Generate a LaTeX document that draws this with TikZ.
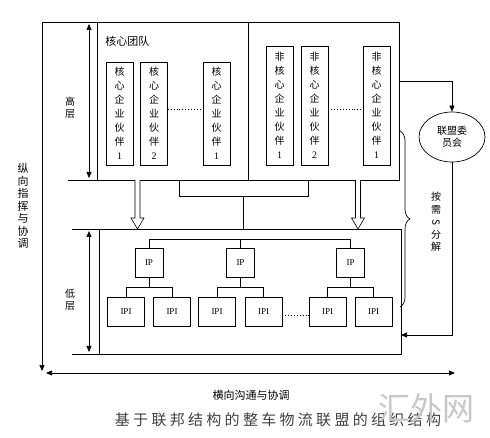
\documentclass[tikz,border=0pt]{standalone}
\usepackage{fontspec}
\setmainfont{Liberation Serif}
\newfontfamily\cjk{Noto Sans CJK SC}
\newfontfamily\cjkt[LetterSpace=22]{Noto Sans CJK SC}
\usetikzlibrary{arrows.meta,shapes.geometric,decorations.pathreplacing}
\begin{document}
\begin{tikzpicture}[x=1pt,y=-1pt,
  line width=0.7pt,
  vbox/.style={draw, minimum width=27pt, inner sep=0pt, align=center, font=\cjk\fontsize{10}{14}\selectfont},
  ipbox/.style={draw, minimum width=28pt, minimum height=29pt, inner sep=0pt, font=\fontsize{9}{10}\selectfont},
  ipibox/.style={draw, minimum width=37pt, minimum height=29pt, inner sep=0pt, font=\fontsize{9}{10}\selectfont},
  lbl/.style={font=\cjk\fontsize{10}{12}\selectfont, align=center, inner sep=0pt},
  tip/.style={-{Triangle[length=6pt,width=5pt]}},
  tips/.style={{Triangle[length=6pt,width=5pt]}-{Triangle[length=6pt,width=5pt]}},
  hollow/.style={fill=white, line width=0.6pt},
]
\useasboundingbox (0,0) rectangle (490,438);

% frame lines
\draw (42,22) -- (399,22) -- (399,180) -- (68,180);
\draw (97,22) -- (97,180);
\draw (248,22) -- (248,180);
\draw[tip] (42,22) -- (42,371);
\draw[tips] (46,373) -- (455,373);
\draw (72,229) -- (401,229) -- (401,354) -- (72,354);
\draw (99,229) -- (99,354);

% layer arrows
\draw[tips] (89,24) -- (89,178);
\draw[tips] (89,231) -- (89,352);
\node[lbl] (gao) at (70,108) {高\\层};
\node[lbl] (di) at (70,300) {低\\层};

\node[lbl, anchor=west, font=\cjk\fontsize{11}{12}\selectfont] (team) at (105,41) {核心团队};

% core partners
\node[vbox, minimum height=103pt] (c1) at (119.5,113.5) {核\\心\\企\\业\\伙\\伴\\{\rmfamily 1}};
\node[vbox, minimum height=103pt] (c2) at (154,113.5) {核\\心\\企\\业\\伙\\伴\\{\rmfamily 2}};
\node[vbox, minimum height=103pt] (c3) at (216.5,113.5) {核\\心\\企\\业\\伙\\伴\\{\rmfamily 1}};
% non-core partners
\node[vbox, minimum height=119pt] (n1) at (279.5,105.5) {非\\核\\心\\企\\业\\伙\\伴\\{\rmfamily 1}};
\node[vbox, minimum height=119pt] (n2) at (314.5,105.5) {非\\核\\心\\企\\业\\伙\\伴\\{\rmfamily 2}};
\node[vbox, minimum height=119pt] (n3) at (376.5,105.5) {非\\核\\心\\企\\业\\伙\\伴\\{\rmfamily 1}};
\coordinate (dotY) at (0,109);
\draw[dotted, line width=0.9pt] (c2.east |- dotY) -- (c3.west |- dotY);
\draw[dotted, line width=0.9pt] (n2.east |- dotY) -- (n3.west |- dotY);

% middle connector
\draw (179,180) -- (179,196) -- (308,196) -- (308,180);
\draw (243,196) -- (243,229);

% hollow arrows
\draw[hollow] (135,180) -- (135,218) -- (131,218) -- (137.5,229) -- (144,218) -- (140,218) -- (140,180);
\draw[hollow] (355.5,180) -- (355.5,218) -- (351.5,218) -- (358,229) -- (364.5,218) -- (360.5,218) -- (360.5,180);

% lower level
\node[ipbox] (ip1) at (149,262.5) {IP};
\node[ipbox] (ip2) at (240.5,262.5) {IP};
\node[ipbox] (ip3) at (350.5,262.5) {IP};
\coordinate (busY) at (0,239);
\draw (ip1.north) -- (ip1.north |- busY) -- (ip3.north |- busY) -- (ip3.north);
\draw (ip2.north) -- (ip2.north |- busY);

\node[ipibox] (p1) at (126,311.5) {IPI};
\node[ipibox] (p2) at (172,311.5) {IPI};
\node[ipibox] (p3) at (217,311.5) {IPI};
\node[ipibox] (p4) at (263.5,311.5) {IPI};
\node[ipibox] (p5) at (327.5,311.5) {IPI};
\node[ipibox] (p6) at (373.5,311.5) {IPI};
\coordinate (subY) at (0,287);
\draw (ip1.south) -- (ip1.south |- subY);
\draw (p1.north) -- (p1.north |- subY) -- (p2.north |- subY) -- (p2.north);
\draw (ip2.south) -- (ip2.south |- subY);
\draw (p3.north) -- (p3.north |- subY) -- (p4.north |- subY) -- (p4.north);
\draw (ip3.south) -- (ip3.south |- subY);
\draw (p5.north) -- (p5.north |- subY) -- (p6.north |- subY) -- (p6.north);
\coordinate (dot2) at (0,315);
\draw[dotted, line width=0.9pt] (p4.east |- dot2) -- (p5.west |- dot2);

% committee
\node[draw, ellipse, minimum width=66pt, minimum height=50pt, lbl] (com) at (452,137) {联盟委\\员会};
\coordinate (outR) at (399,81);
\draw[tip] (outR) -| (com.north);
\coordinate (ret) at (401,335);
\draw[tip] (com.south) |- (ret);

% brace
\draw[decorate, decoration={brace, amplitude=10pt}] (400,131) -- (400,307);
\node[lbl, font=\cjk\fontsize{10}{12.5}\selectfont] (ansf) at (436,222) {按\\需\\{\rotatebox[origin=c]{-90}{S}}\\分\\解};

% axis labels
\node[lbl, font=\cjk\fontsize{11}{12.5}\selectfont] (zong) at (23,206) {纵\\向\\指\\挥\\与\\协\\调};
\node[lbl, font=\cjk\fontsize{11}{12}\selectfont] (heng) at (251,395) {横向沟通与协调};

% title and watermark
\node[inner sep=0pt, font=\cjkt\fontsize{15}{16}\selectfont, text=black!75] (title) at (278,420) {基于联邦结构的整车物流联盟的组织结构};
\node[inner sep=0pt, font=\cjk\fontsize{32}{34}\selectfont, text=black!22] (wm) at (426,408) {汇外网};
\end{tikzpicture}
\end{document}
